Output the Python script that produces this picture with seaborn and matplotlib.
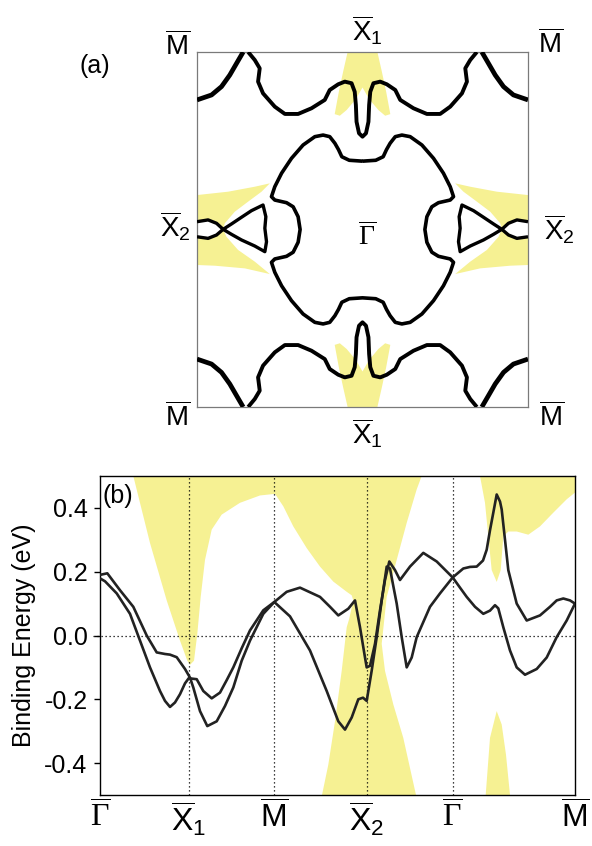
import numpy as np
import pandas as pd
import matplotlib
matplotlib.use('Agg')
import matplotlib.pyplot as plt
import seaborn as sns

# ---------------- data ----------------
# (b) path positions of the high symmetry points
k_ticks = [0.0, 0.887, 1.743, 2.667, 3.527, 4.75]
k_labels = [r'$\overline{\Gamma}$', r'$\overline{\mathsf{X}}_{\mathsf{1}}$', r'$\overline{\mathsf{M}}$',
            r'$\overline{\mathsf{X}}_{\mathsf{2}}$', r'$\overline{\Gamma}$', r'$\overline{\mathsf{M}}$']

band_a_k = [0.0, 0.073, 0.2, 0.333, 0.467, 0.567, 0.65, 0.7, 0.767, 0.85, 0.9, 0.933, 1.0, 1.073,
            1.167, 1.25, 1.333, 1.417, 1.5, 1.633, 1.743, 1.867, 2.0, 2.2, 2.3, 2.383, 2.483, 2.55,
            2.6, 2.65, 2.667, 2.7, 2.75, 2.8, 2.85, 2.893, 2.95, 3.0, 3.1, 3.233, 3.367, 3.527,
            3.6, 3.667, 3.75, 3.833, 3.9, 3.95, 3.983, 4.033, 4.1, 4.167, 4.25, 4.367, 4.467,
            4.567, 4.667, 4.75]
band_a_e = [0.19, 0.195, 0.142, 0.09, 0.0, -0.053, -0.058, -0.06, -0.068, -0.105, -0.132, -0.163,
            -0.237, -0.284, -0.269, -0.221, -0.163, -0.079, -0.016, 0.068, 0.105, 0.137, 0.15,
            0.121, 0.09, 0.063, 0.084, 0.11, 0.026, -0.069, -0.1, -0.095, -0.026, 0.079, 0.174,
            0.232, 0.205, 0.174, 0.216, 0.259, 0.232, 0.182, 0.15, 0.121, 0.09, 0.068, 0.078,
            0.095, 0.085, 0.026, -0.047, -0.1, -0.123, -0.105, -0.069, -0.005, 0.047, 0.1]

band_b_k = [0.0, 0.05, 0.167, 0.3, 0.4, 0.5, 0.6, 0.65, 0.7, 0.75, 0.8, 0.85, 0.887, 0.967, 1.033,
            1.117, 1.2, 1.267, 1.333, 1.417, 1.5, 1.633, 1.743, 1.9, 2.1, 2.267, 2.383, 2.45, 2.517,
            2.583, 2.63, 2.667, 2.717, 2.767, 2.817, 2.867, 2.9, 2.93, 2.967, 3.017, 3.067, 3.117,
            3.167, 3.3, 3.4, 3.527, 3.633, 3.7, 3.767, 3.83, 3.867, 3.9, 3.933, 3.967, 4.0, 4.017,
            4.05, 4.083, 4.167, 4.267, 4.4, 4.5, 4.567, 4.633, 4.7, 4.75]
band_b_e = [0.179, 0.17, 0.132, 0.068, -0.016, -0.1, -0.174, -0.205, -0.224, -0.21, -0.184, -0.15,
            -0.134, -0.137, -0.174, -0.197, -0.179, -0.14, -0.1, -0.04, 0.016, 0.079, 0.105, 0.06,
            -0.047, -0.174, -0.269, -0.295, -0.257, -0.2, -0.195, -0.205, -0.11, -0.005, 0.11,
            0.216, 0.21, 0.16, 0.1, -0.005, -0.1, -0.069, -0.005, 0.09, 0.132, 0.182, 0.21, 0.215,
            0.216, 0.235, 0.269, 0.33, 0.385, 0.442, 0.42, 0.395, 0.3, 0.205, 0.1, 0.047, 0.063,
            0.09, 0.11, 0.116, 0.11, 0.1]

# projected bulk states (yellow) in (b)
bulk1_k = [0.333, 0.5, 0.667, 0.8, 0.873, 0.9, 0.94, 0.973, 1.007, 1.05, 1.117, 1.217, 1.4, 1.6,
           1.75, 1.833, 1.933, 2.067, 2.2, 2.333, 2.467, 2.517, 2.533, 2.49, 2.467, 2.417, 2.35,
           2.283, 2.22, 3.16, 3.033, 2.933, 2.85, 2.817, 2.867, 2.967, 3.067, 3.167, 3.217]
bulk1_e = [0.5, 0.29, 0.11, -0.016, -0.079, -0.092, -0.079, 0.005, 0.121, 0.237, 0.332, 0.379,
           0.416, 0.439, 0.444, 0.405, 0.342, 0.274, 0.216, 0.169, 0.137, 0.126, 0.11, 0.05, 0.026,
           -0.111, -0.269, -0.405, -0.5, -0.5, -0.321, -0.216, -0.111, -0.026, 0.121, 0.237,
           0.353, 0.458, 0.5]
bulk2_k = [3.8, 3.85, 3.883, 3.917, 3.967, 4.007, 4.033, 4.083, 4.167, 4.283, 4.4, 4.533, 4.667, 4.75, 4.75]
bulk2_e = [0.5, 0.416, 0.311, 0.205, 0.168, 0.205, 0.311, 0.326, 0.326, 0.316, 0.342, 0.385, 0.427, 0.448, 0.5]
bulk3_k = [3.857, 3.9, 3.967, 4.017, 4.06, 4.1]
bulk3_e = [-0.5, -0.321, -0.237, -0.279, -0.374, -0.5]

# (a) Fermi surface, read in the upper-left quadrant (kx, ky in units of the zone half-width)
corner_kx = [-1.0, -0.912, -0.852, -0.802, -0.761, -0.721]
corner_ky = [0.73, 0.758, 0.805, 0.87, 0.936, 1.0]
top_kx = [-0.691, -0.651, -0.621, -0.631, -0.601, -0.53, -0.469, -0.389, -0.308, -0.228, -0.198,
          -0.147, -0.107, -0.066, -0.047, -0.04, -0.036, -0.021, 0.0]
top_ky = [1.0, 0.955, 0.908, 0.833, 0.767, 0.692, 0.651, 0.651, 0.683, 0.73, 0.786, 0.818, 0.833,
          0.824, 0.776, 0.701, 0.607, 0.542, 0.523]
center_kx = [0.0, -0.08, -0.125, -0.145, -0.167, -0.198, -0.238, -0.288, -0.359, -0.429, -0.489,
             -0.53, -0.55, -0.53, -0.459, -0.419, -0.389, -0.377]
center_ky = [0.385, 0.39, 0.41, 0.45, 0.486, 0.523, 0.532, 0.523, 0.476, 0.401, 0.317, 0.241,
             0.185, 0.166, 0.151, 0.128, 0.072, 0.0]
lens_kx = [-1.0, -0.933, -0.882, -0.842, -0.882, -0.933, -1.0]
lens_ky = [0.044, 0.054, 0.035, 0.001, -0.031, -0.05, -0.041]
tri_kx = [-0.842, -0.792, -0.731, -0.671, -0.601, -0.584, -0.59, -0.58, -0.59, -0.651, -0.731, -0.792, -0.842]
tri_ky = [0.001, 0.031, 0.069, 0.106, 0.138, 0.072, 0.007, -0.069, -0.125, -0.093, -0.059, -0.027, 0.001]
# projected bulk pockets (yellow) in (a)
ybulk_top_kx = [-0.09, -0.117, -0.143, -0.168, -0.137, -0.096, -0.04, 0.0, 0.04, 0.096, 0.137, 0.168, 0.143, 0.117, 0.09]
ybulk_top_ky = [1.0, 0.889, 0.776, 0.65, 0.641, 0.673, 0.735, 0.8, 0.735, 0.673, 0.641, 0.65, 0.776, 0.889, 1.0]
ybulk_left_kx = [-1.0, -0.812, -0.651, -0.56, -0.61, -0.691, -0.772, -0.832, -0.842, -0.822,
                 -0.752, -0.651, -0.56, -0.711, -0.892, -1.0]
ybulk_left_ky = [0.194, 0.213, 0.241, 0.26, 0.213, 0.157, 0.1, 0.035, 0.001, -0.041, -0.115,
                 -0.181, -0.251, -0.219, -0.204, -0.2]

# ---------------- style ----------------
sns.set_style('white')
plt.rcParams['font.family'] = ['Liberation Sans', 'DejaVu Sans']
plt.rcParams['mathtext.fontset'] = 'custom'
plt.rcParams['mathtext.rm'] = 'Liberation Serif'
plt.rcParams['mathtext.sf'] = 'Liberation Sans'
plt.rcParams['mathtext.it'] = 'Liberation Serif:italic'
plt.rcParams['mathtext.bf'] = 'Liberation Serif:bold'
plt.rcParams['text.color'] = 'black'
plt.rcParams['axes.labelcolor'] = 'black'
plt.rcParams['xtick.color'] = 'black'
plt.rcParams['ytick.color'] = 'black'

yellow = '#f6f193'
band_col = '#222222'

fig = plt.figure(figsize=(5.92, 8.46), dpi=100)

# ---------------- panel (a) ----------------
axa = fig.add_axes([197 / 592, 1 - 407 / 846, 331 / 592, 355 / 846])
axa.set_xlim(-1, 1)
axa.set_ylim(-1, 1)
axa.set_xticks([])
axa.set_yticks([])
for s in axa.spines.values():
    s.set_color('#7a7a7a')
    s.set_linewidth(0.9)


def flip(x, y, sx, sy):
    return [sx * v for v in x], [sy * v for v in y]


# yellow pockets
for sy in (1, -1):
    xx, yy = flip(ybulk_top_kx, ybulk_top_ky, 1, sy)
    axa.fill(xx, yy, color=yellow, lw=0, zorder=1)
for sx in (1, -1):
    xx, yy = flip(ybulk_left_kx, ybulk_left_ky, sx, 1)
    axa.fill(xx, yy, color=yellow, lw=0, zorder=1)


def draw(ax, x, y, lw):
    sns.lineplot(x=x, y=y, sort=False, estimator=None, color='black', lw=lw, ax=ax,
                 zorder=3, solid_capstyle='butt')


# corner pieces
for sx in (1, -1):
    for sy in (1, -1):
        xx, yy = flip(corner_kx, corner_ky, sx, sy)
        draw(axa, xx, yy, 3.4)

# top / bottom contours with the finger
top_full_x = top_kx + [-v for v in top_kx[::-1]][1:]
top_full_y = top_ky + top_ky[::-1][1:]
for sy in (1, -1):
    xx, yy = flip(top_full_x, top_full_y, 1, sy)
    draw(axa, xx, yy, 2.8)

# central loop
left_x = center_kx + center_kx[::-1][1:]
left_y = center_ky + [-v for v in center_ky[::-1]][1:]
loop_x = left_x + [-v for v in left_x[::-1]][1:]
loop_y = left_y + left_y[::-1][1:]
draw(axa, loop_x, loop_y, 2.6)

# lens and triangle at X2
for sx in (1, -1):
    xx, yy = flip(lens_kx, lens_ky, sx, 1)
    axa.fill(xx, yy, color='white', lw=0, zorder=2)
    draw(axa, xx, yy, 2.4)
    xx, yy = flip(tri_kx, tri_ky, sx, 1)
    axa.fill(xx, yy, color='white', lw=0, zorder=2)
    draw(axa, xx, yy, 2.4)

lab_kw = dict(ha='center', va='center', fontsize=20, clip_on=False)
M_lab = r'$\overline{\mathsf{M}}$'
X1_lab = r'$\overline{\mathsf{X}}_{\mathsf{1}}$'
X2_lab = r'$\overline{\mathsf{X}}_{\mathsf{2}}$'
axa.text(-1.116, 1.03, M_lab, **lab_kw)
axa.text(1.135, 1.045, M_lab, **lab_kw)
axa.text(-1.116, -1.06, M_lab, **lab_kw)
axa.text(1.145, -1.06, M_lab, **lab_kw)
axa.text(0.03, 1.12, X1_lab, **lab_kw)
axa.text(0.03, -1.15, X1_lab, **lab_kw)
axa.text(-1.13, 0.02, X2_lab, **lab_kw)
axa.text(1.19, 0.0, X2_lab, **lab_kw)
axa.text(0.026, -0.04, r'$\overline{\Gamma}$', **lab_kw)
fig.text(95 / 592, 1 - 66 / 846, '(a)', ha='center', va='center', fontsize=18)

# ---------------- panel (b) ----------------
axb = fig.add_axes([100 / 592, 1 - 795 / 846, 475 / 592, 319 / 846])
axb.fill(bulk1_k, bulk1_e, color=yellow, lw=0, zorder=1)
axb.fill(bulk2_k, bulk2_e, color=yellow, lw=0, zorder=1)
axb.fill(bulk3_k, bulk3_e, color=yellow, lw=0, zorder=1)

for k in k_ticks[1:-1]:
    axb.axvline(k, color='black', lw=0.9, ls=(0, (1, 2.2)), zorder=2)
axb.plot([-0.07, 4.75], [0, 0], color='black', lw=0.9, ls=(0, (1, 2.2)), zorder=2, clip_on=False)

bands = pd.concat([
    pd.DataFrame({'k': band_a_k, 'E': band_a_e, 'band': 'a'}),
    pd.DataFrame({'k': band_b_k, 'E': band_b_e, 'band': 'b'}),
])
sns.lineplot(data=bands, x='k', y='E', units='band', estimator=None, sort=False,
             color=band_col, lw=1.9, ax=axb, zorder=3)

axb.set_xlim(0, 4.75)
axb.set_ylim(-0.5, 0.5)
axb.set_xticks(k_ticks)
axb.set_xticklabels(k_labels, fontsize=23)
axb.set_yticks([-0.4, -0.2, 0.0, 0.2, 0.4])
axb.set_yticklabels(['-0.4', '-0.2', '0.0', '0.2', '0.4'], fontsize=18)
axb.tick_params(axis='x', length=0, pad=4)
axb.tick_params(axis='y', direction='out', length=4, width=1, pad=5, left=True)
axb.set_xlabel('')
axb.set_ylabel('Binding Energy (eV)', fontsize=18, labelpad=6)
for s in axb.spines.values():
    s.set_color('black')
    s.set_linewidth(1.0)
axb.text(0.006, 0.975, '(b)', transform=axb.transAxes, ha='left', va='top', fontsize=18, zorder=4)

fig.savefig('out.png', dpi=100)
